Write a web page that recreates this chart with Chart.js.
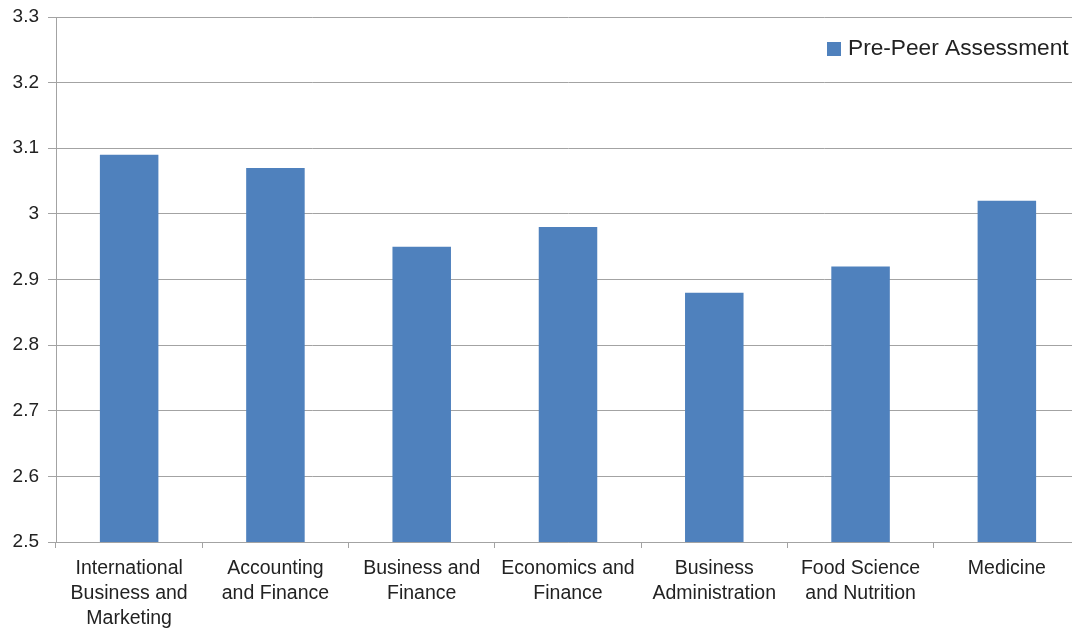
<!DOCTYPE html>
<html>
<head>
<meta charset="utf-8">
<script src="https://cdn.jsdelivr.net/npm/chart.js@4/dist/chart.umd.min.js"></script>
<style>
  html, body { margin: 0; padding: 0; background: #fff; overflow: hidden; }
  #wrap { width: 1080px; height: 630px; position: relative; }
</style>
</head>
<body>
<div id="wrap"><canvas id="c"></canvas></div>
<script>
// chart data
const categories = [
  ['International', 'Business and', 'Marketing'],
  ['Accounting', 'and Finance'],
  ['Business and', 'Finance'],
  ['Economics and', 'Finance'],
  ['Business', 'Administration'],
  ['Food Science', 'and Nutrition'],
  ['Medicine']
];
const seriesName = 'Pre-Peer Assessment';
const preValues = [3.09, 3.07, 2.95, 2.98, 2.88, 2.92, 3.02];
const yTickLabels = ['2.5', '2.6', '2.7', '2.8', '2.9', '3', '3.1', '3.2', '3.3'];

const BLUE = '#4f81bd';
const GRID = '#a3a3a3';
const TXT = '#222';
const FONT = '"Liberation Sans", Arial, Helvetica, sans-serif';

// legend drawn inside the plot, top right
const insideLegend = {
  id: 'insideLegend',
  afterDraw(chart) {
    const ctx = chart.ctx;
    const ds = chart.data.datasets[0];
    ctx.save();
    ctx.fillStyle = ds.backgroundColor;
    ctx.fillRect(827, 42, 14, 14);
    ctx.fillStyle = TXT;
    ctx.font = '22.7px ' + FONT;
    ctx.textBaseline = 'middle';
    ctx.textAlign = 'left';
    ctx.fillText(ds.label, 848, 49);
    ctx.restore();
  }
};

new Chart(document.getElementById('c'), {
  type: 'bar',
  data: {
    labels: categories,
    datasets: [{
      label: seriesName,
      data: preValues,
      backgroundColor: BLUE,
      borderWidth: 0,
      barPercentage: 0.8,
      categoryPercentage: 0.5
    }]
  },
  options: {
    responsive: true,
    maintainAspectRatio: false,
    animation: false,
    layout: { padding: { top: 17, right: 0, left: 0, bottom: 0 } },
    plugins: {
      tooltip: { enabled: false },
      legend: { display: false }
    },
    scales: {
      x: {
        grid: {
          offset: true,
          drawOnChartArea: false,
          color: GRID,
          tickLength: 6
        },
        border: { color: GRID, width: 1 },
        ticks: {
          color: TXT,
          font: { family: FONT, size: 19.5, lineHeight: 1.28 },
          maxRotation: 0,
          autoSkip: false,
          padding: 8
        },
        afterFit: s => { s.height = 88; }
      },
      y: {
        min: 2.5,
        max: 3.3,
        grid: { color: GRID, tickLength: 8 },
        border: { color: GRID, width: 1 },
        ticks: {
          stepSize: 0.1,
          color: TXT,
          font: { family: FONT, size: 19, lineHeight: 1 },
          padding: 9,
          callback: v => yTickLabels[Math.round((v - 2.5) * 10)]
        },
        afterFit: s => { s.width = 56; s.paddingTop = 0; s.paddingBottom = 0; }
      }
    }
  },
  plugins: [insideLegend]
});
</script>
</body>
</html>
